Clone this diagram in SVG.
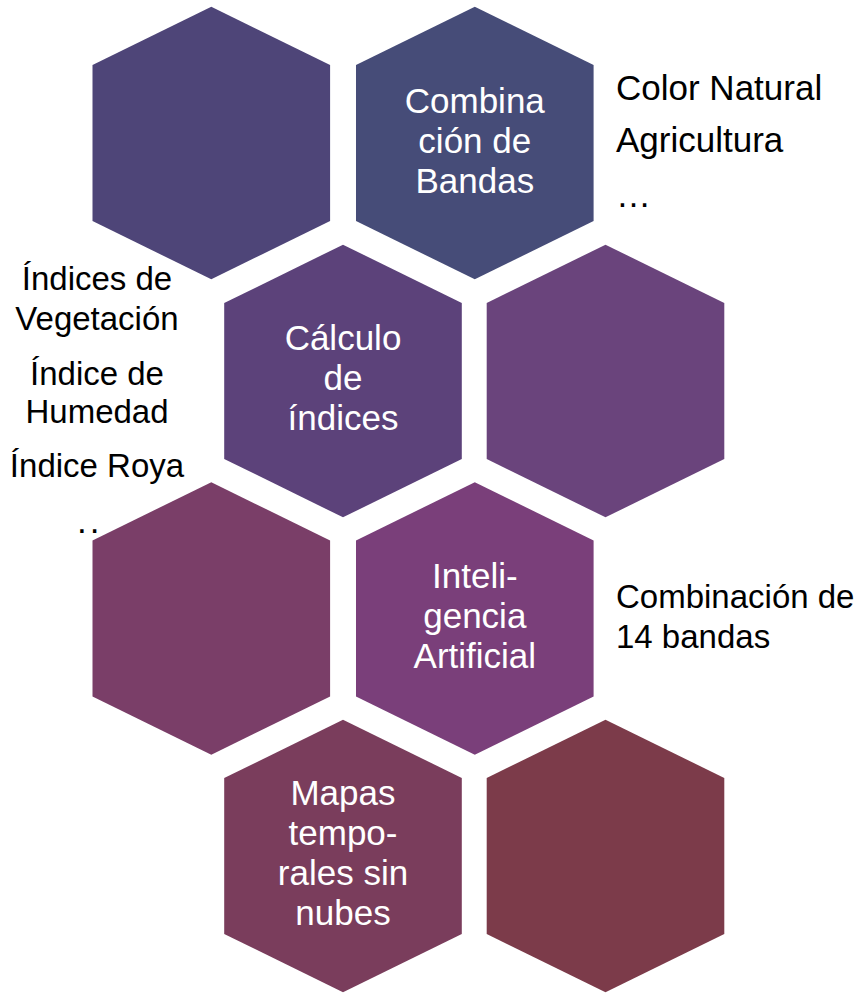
<svg xmlns="http://www.w3.org/2000/svg" xmlns:xlink="http://www.w3.org/1999/xlink" width="866" height="993" viewBox="0 0 866 993">
  <style>
    text { font-family: "Liberation Sans", Arial, sans-serif; font-size: 35px; }
    .in { fill: #ffffff; text-anchor: middle; }
    .out { fill: #000000; }
    .mid { text-anchor: middle; }
    .sm { font-size: 33px; }
  </style>
  <defs>
    <path id="hex" d="M0,-136.3 L118.8,-78 L118.8,78 L0,136.3 L-118.8,78 L-118.8,-78 Z"/>
  </defs>
  <rect width="866" height="993" fill="#ffffff"/>

  <g id="hex-1"><use xlink:href="#hex" href="#hex" x="211.3" y="143" fill="#4E4578"/></g>
  <g id="hex-combinacion">
    <use xlink:href="#hex" href="#hex" x="474.8" y="143" fill="#464C78"/>
    <text class="in" x="474.8" y="113">Combina</text>
    <text class="in" x="474.8" y="153">ción de</text>
    <text class="in" x="474.8" y="193">Bandas</text>
  </g>
  <g id="hex-calculo">
    <use xlink:href="#hex" href="#hex" x="343" y="381" fill="#5C427A"/>
    <text class="in" x="343" y="350">Cálculo</text>
    <text class="in" x="343" y="390">de</text>
    <text class="in" x="343" y="430">índices</text>
  </g>
  <g id="hex-4"><use xlink:href="#hex" href="#hex" x="605.5" y="381" fill="#6A447C"/></g>
  <g id="hex-5"><use xlink:href="#hex" href="#hex" x="211.3" y="618.5" fill="#7A3E68"/></g>
  <g id="hex-ia">
    <use xlink:href="#hex" href="#hex" x="474.8" y="618.5" fill="#7A3F7A"/>
    <text class="in" x="474.8" y="588">Inteli-</text>
    <text class="in" x="474.8" y="628">gencia</text>
    <text class="in" x="474.8" y="668">Artificial</text>
  </g>
  <g id="hex-mapas">
    <use xlink:href="#hex" href="#hex" x="343" y="856" fill="#7A3D5C"/>
    <text class="in" x="343" y="805">Mapas</text>
    <text class="in" x="343" y="845">tempo-</text>
    <text class="in" x="343" y="885">rales sin</text>
    <text class="in" x="343" y="925">nubes</text>
  </g>
  <g id="hex-8"><use xlink:href="#hex" href="#hex" x="605.5" y="856" fill="#7C3B4A"/></g>

  <g id="label-combinacion">
    <text class="out" x="616" y="100">Color Natural</text>
    <text class="out" x="616" y="152">Agricultura</text>
    <text class="out" x="616" y="207">…</text>
  </g>
  <g id="label-calculo">
    <text class="out mid sm" x="97" y="290">Índices de</text>
    <text class="out mid sm" x="97" y="330">Vegetación</text>
    <text class="out mid sm" x="97" y="385">Índice de</text>
    <text class="out mid sm" x="97" y="423">Humedad</text>
    <text class="out mid sm" x="97" y="477">Índice Roya</text>
    <text class="out" x="77" y="533" letter-spacing="3">..</text>
  </g>
  <g id="label-ia">
    <text class="out sm" x="616" y="608">Combinación de</text>
    <text class="out sm" x="616" y="648">14 bandas</text>
  </g>
</svg>
